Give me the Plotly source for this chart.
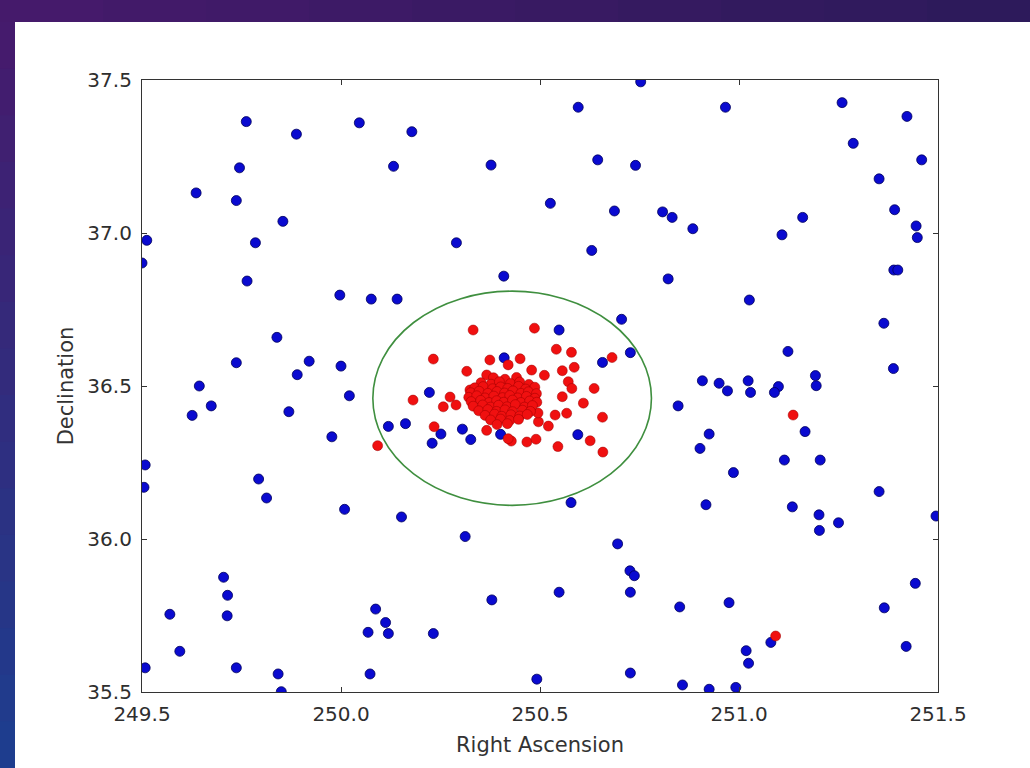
import plotly.graph_objects as go

# ---------------- data ----------------
ra_blue = [249.762, 249.888, 250.046, 250.178, 249.745, 250.132, 250.377, 249.636, 249.737, 249.854,
           249.512, 249.785, 250.290, 249.764, 250.409, 249.997, 250.076, 250.141, 249.839, 249.737,
           249.920, 250.000, 249.890, 249.644, 249.674, 249.626, 250.021, 249.869, 249.977, 249.508,
           249.505, 249.793, 249.813, 250.009, 250.152, 250.312, 249.705, 249.715, 249.570, 249.714,
           249.595, 249.508, 249.737, 249.842, 249.850, 250.087, 250.112, 250.068, 250.119, 250.232,
           250.379, 250.073, 250.492, 250.222, 250.119, 250.162, 250.251, 250.229, 250.305, 250.326,
           250.401, 250.410, 250.548, 250.705, 250.727, 250.657, 250.595, 250.578, 250.753, 250.596,
           250.966, 251.259, 251.422, 251.287, 251.459, 250.645, 250.740, 251.352, 250.526, 250.687,
           250.808, 250.832, 250.884, 251.391, 251.160, 251.108, 251.445, 251.448, 250.630, 251.389,
           251.399, 250.822, 251.026, 251.364, 251.123, 251.388, 250.908, 250.950, 250.971, 251.023,
           251.029, 251.099, 251.089, 251.194, 251.192, 250.847, 251.166, 250.925, 250.902, 251.114,
           251.204, 250.986, 251.352, 250.917, 251.134, 251.201, 251.250, 251.202, 251.495, 250.695,
           250.726, 250.737, 250.727, 250.548, 251.443, 250.851, 250.975, 251.365, 251.080, 251.018,
           251.024, 251.420, 250.727, 250.858, 250.925, 250.992, 249.500]
dec_blue = [37.364, 37.323, 37.360, 37.331, 37.213, 37.218, 37.222, 37.131, 37.106, 37.038,
            36.976, 36.968, 36.968, 36.843, 36.859, 36.797, 36.784, 36.784, 36.659, 36.576,
            36.581, 36.565, 36.537, 36.500, 36.435, 36.404, 36.468, 36.416, 36.334, 36.242,
            36.169, 36.196, 36.134, 36.097, 36.072, 36.008, 35.875, 35.816, 35.754, 35.749,
            35.633, 35.579, 35.579, 35.559, 35.501, 35.771, 35.727, 35.695, 35.691, 35.691,
            35.801, 35.559, 35.542, 36.479, 36.368, 36.377, 36.343, 36.313, 36.359, 36.325,
            36.342, 36.592, 36.683, 36.718, 36.609, 36.577, 36.341, 36.119, 37.494, 37.411,
            37.411, 37.426, 37.381, 37.293, 37.239, 37.239, 37.221, 37.177, 37.097, 37.072,
            37.069, 37.051, 37.014, 37.076, 37.051, 36.994, 37.023, 36.985, 36.943, 36.879,
            36.879, 36.850, 36.781, 36.705, 36.613, 36.557, 36.517, 36.509, 36.484, 36.517,
            36.479, 36.498, 36.479, 36.501, 36.534, 36.435, 36.351, 36.343, 36.296, 36.258,
            36.258, 36.217, 36.155, 36.112, 36.105, 36.079, 36.053, 36.028, 36.075, 35.984,
            35.896, 35.880, 35.826, 35.826, 35.855, 35.778, 35.792, 35.775, 35.662, 35.635,
            35.594, 35.649, 35.562, 35.523, 35.509, 35.515, 36.902]

ra_red = [250.332, 250.486, 250.541, 250.579, 250.681, 250.232, 250.374, 250.450, 250.316, 250.479,
          250.511, 250.556, 250.586, 250.571, 250.580, 250.636, 250.556, 250.609, 250.657, 250.538,
          250.567, 250.521, 250.496, 250.428, 250.467, 250.490, 250.626, 250.545, 250.658, 250.181,
          250.274, 250.257, 250.289, 250.234, 250.092, 250.366, 250.420, 250.324, 250.366, 250.420,
          251.136, 251.092, 250.495,
          250.383, 250.412, 250.441,
          250.352, 250.377, 250.398, 250.426, 250.449, 250.472,
          250.336, 250.357, 250.381, 250.401, 250.419, 250.446, 250.464, 250.487,
          250.326, 250.347, 250.369, 250.392, 250.411, 250.432, 250.452, 250.471, 250.491,
          250.321, 250.341, 250.362, 250.384, 250.406, 250.424, 250.444, 250.466, 250.487,
          250.327, 250.351, 250.372, 250.391, 250.409, 250.431, 250.452, 250.474, 250.492,
          250.332, 250.356, 250.376, 250.396, 250.417, 250.438, 250.461, 250.481,
          250.346, 250.369, 250.391, 250.412, 250.431, 250.456, 250.476,
          250.362, 250.386, 250.404, 250.427, 250.449, 250.468,
          250.376, 250.401, 250.424, 250.446,
          250.392, 250.418]
dec_red = [36.683, 36.689, 36.620, 36.610, 36.593, 36.588, 36.585, 36.589, 36.548, 36.552,
           36.535, 36.550, 36.561, 36.514, 36.492, 36.492, 36.465, 36.444, 36.398, 36.405,
           36.411, 36.369, 36.383, 36.320, 36.317, 36.326, 36.321, 36.302, 36.284, 36.454,
           36.464, 36.432, 36.438, 36.367, 36.305, 36.355, 36.328, 36.487, 36.536, 36.569,
           36.405, 35.683, 36.412,
           36.527, 36.522, 36.528,
           36.511, 36.506, 36.514, 36.508, 36.513, 36.505,
           36.494, 36.498, 36.491, 36.497, 36.492, 36.499, 36.490, 36.496,
           36.478, 36.483, 36.476, 36.482, 36.477, 36.484, 36.476, 36.481, 36.475,
           36.463, 36.468, 36.461, 36.467, 36.462, 36.469, 36.461, 36.466, 36.460,
           36.449, 36.453, 36.446, 36.452, 36.447, 36.454, 36.446, 36.451, 36.447,
           36.434, 36.438, 36.431, 36.437, 36.432, 36.439, 36.431, 36.436,
           36.419, 36.423, 36.417, 36.422, 36.416, 36.421, 36.417,
           36.404, 36.408, 36.401, 36.406, 36.402, 36.407,
           36.389, 36.392, 36.387, 36.391,
           36.374, 36.377]

circle_center = (250.43, 36.46)
circle_radius = 0.35

x_range = [249.5, 251.5]
y_range = [35.5, 37.5]
x_ticks = [249.5, 250.0, 250.5, 251.0, 251.5]
y_ticks = [35.5, 36.0, 36.5, 37.0, 37.5]

# ---------------- layout geometry ----------------
W, H = 1030, 768
L, R, T, B = 142, 938, 80, 692  # plot area in px


def px(xp):
    return (xp - L) / (R - L)


def py(yp):
    return (B - yp) / (B - T)


def mix(c1, c2, t):
    a = [int(c1[i:i + 2], 16) for i in (1, 3, 5)]
    b = [int(c2[i:i + 2], 16) for i in (1, 3, 5)]
    return "#" + "".join(f"{round(a[k] + (b[k] - a[k]) * t):02x}" for k in range(3))


fig = go.Figure()
fig.add_trace(go.Scatter(
    x=ra_blue, y=dec_blue, mode="markers", name="field",
    marker=dict(size=10, color="#0a0ad0", line=dict(color="#00005a", width=0.8)),
    hoverinfo="skip"))
fig.add_trace(go.Scatter(
    x=ra_red, y=dec_red, mode="markers", name="members",
    marker=dict(size=10, color="#f01010", line=dict(color="#9a0000", width=0.5)),
    hoverinfo="skip"))

shapes = []
# slide decoration: left and top dark strips with gradient (segments overlap to avoid seams)
top_c, bot_c = "#461a6c", "#1d3e8f"
n = 16
seg_h = (H - 22) / n
for i in range(n):
    y0p = 22 + seg_h * i
    y1p = min(H, y0p + seg_h + 2)
    shapes.append(dict(type="rect", xref="paper", yref="paper", layer="below",
                       x0=px(0), x1=px(15), y0=py(y1p), y1=py(y0p),
                       fillcolor=mix(top_c, bot_c, (i + 0.5) / n), line=dict(width=0)))
m = 10
seg_w = W / m
for i in range(m):
    x0p = seg_w * i
    x1p = min(W, x0p + seg_w + 2)
    shapes.append(dict(type="rect", xref="paper", yref="paper", layer="below",
                       x0=px(x0p), x1=px(x1p), y0=py(22), y1=py(0),
                       fillcolor=mix("#461a6c", "#2c1a5a", (i + 0.5) / m), line=dict(width=0)))
# circle (aperture)
cx, cy = circle_center
shapes.append(dict(type="circle", xref="x", yref="y", layer="below",
                   x0=cx - circle_radius, x1=cx + circle_radius,
                   y0=cy - circle_radius, y1=cy + circle_radius,
                   line=dict(color="#3f8f3f", width=1.6)))

axis_common = dict(showgrid=False, zeroline=False, showline=True, linecolor="#333333",
                   linewidth=1.2, mirror="ticks", ticks="inside", ticklen=5,
                   tickcolor="#333333", tickformat=".1f",
                   tickfont=dict(family="DejaVu Sans", size=20, color="#2e2e2e"))

fig.update_layout(
    width=W, height=H,
    margin=dict(l=L, r=W - R, t=T, b=H - B, pad=0),
    paper_bgcolor="white", plot_bgcolor="white",
    showlegend=False,
    shapes=shapes,
    xaxis=dict(range=x_range, tickvals=x_ticks, ticklabelstandoff=4,
               title=dict(text="Right Ascension", standoff=12,
                          font=dict(family="DejaVu Sans", size=21, color="#333333")),
               **axis_common),
    yaxis=dict(range=y_range, tickvals=y_ticks, ticklabelstandoff=5,
               title=dict(text="Declination", standoff=8,
                          font=dict(family="DejaVu Sans", size=21, color="#333333")),
               **axis_common),
)

fig.write_html("out.html", config={"displayModeBar": False},
               post_script="document.body.style.margin='0';document.body.style.overflow='hidden';")
